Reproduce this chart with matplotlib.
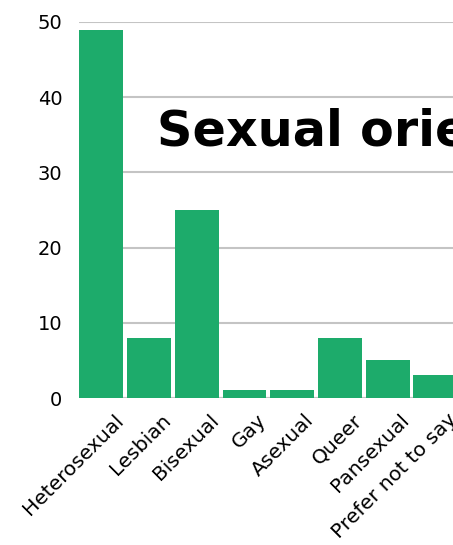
import matplotlib.pyplot as plt
from matplotlib.transforms import ScaledTranslation

categories = ['Heterosexual', 'Lesbian', 'Bisexual', 'Gay', 'Asexual',
              'Queer', 'Pansexual', 'Prefer not to say']
counts = [49, 8, 25, 1, 1, 8, 5, 3]
yticks = [0, 10, 20, 30, 40, 50]
title = 'Sexual orientation'

plt.rcParams['font.family'] = ['DejaVu Sans']

fig = plt.figure(figsize=(4.53, 5.45), dpi=100)
ax = fig.add_axes([79/453, 147/545, 374/453, 376/545])

x = range(len(categories))
ax.bar(x, counts, width=0.92, color='#1dab6b', zorder=3)

ax.set_xlim(-0.47, 7.37)
ax.set_ylim(0, 50)
ax.set_yticks(yticks)
ax.set_yticklabels([str(v) for v in yticks], fontsize=14)
ax.set_xticks(list(x))
ax.set_xticklabels(categories, rotation=45, ha='right', rotation_mode='anchor',
                   fontsize=14.5)
ax.tick_params(axis='y', length=0, pad=12)
ax.tick_params(axis='x', length=0, pad=9)
off = ScaledTranslation(12/100, 0, fig.dpi_scale_trans)
for lbl in ax.get_xticklabels():
    lbl.set_transform(lbl.get_transform() + off)
ax.grid(axis='y', color='#c4c4c4', linewidth=1.5, zorder=0)
for s in ax.spines.values():
    s.set_visible(False)
ax.axhline(0, color='#c4c4c4', linewidth=1.5, zorder=2)

# title sits inside the plot and runs off the right edge
ax.text(157, 545 - 131, title, transform=None, fontsize=35.5, fontweight='bold',
        va='center', ha='left', color='black', zorder=4)

fig.savefig('out.png', dpi=100)
